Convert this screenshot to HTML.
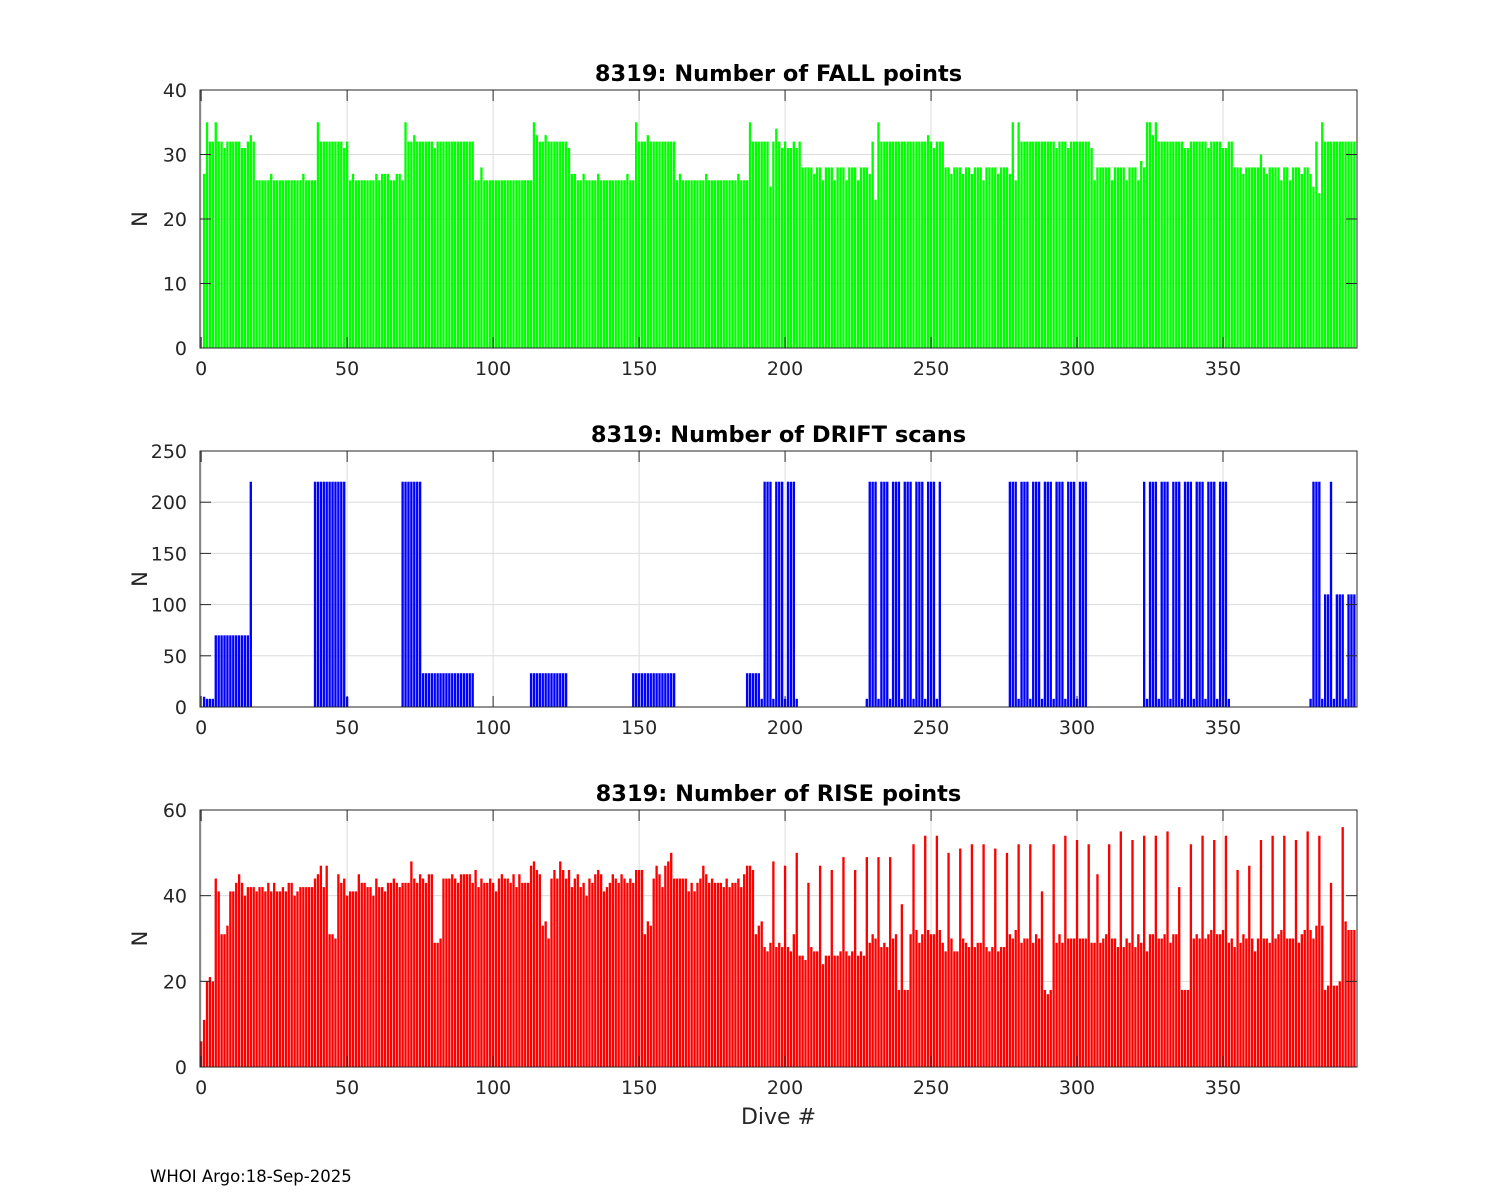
<!DOCTYPE html>
<html><head><meta charset="utf-8"><title>8319 dive stats</title>
<style>
html,body{margin:0;padding:0;background:#fff;}
svg{display:block;font-family:"DejaVu Sans","Liberation Sans",sans-serif;}
</style></head>
<body>
<svg id="fig" width="1500" height="1200" viewBox="0 0 1500 1200" xmlns="http://www.w3.org/2000/svg">
<rect x="0" y="0" width="1500" height="1200" fill="#fff"/>
<text x="150" y="1182" font-size="16.5" fill="#000">WHOI Argo:18-Sep-2025</text>
</svg>
<script>
const fallValues = [
27,35,32,32,35,32,32,31,32,32, 32,32,32,31,31,32,33,32,26,26,
26,26,26,27,26,26,26,26,26,26, 26,26,26,26,27,26,26,26,26,35,
32,32,32,32,32,32,32,32,31,32, 26,27,26,26,26,26,26,26,26,27,
26,27,27,27,26,26,27,27,26,35, 32,32,33,32,32,32,32,32,32,31,
32,32,32,32,32,32,32,32,32,32, 32,32,32,26,26,28,26,26,26,26,
26,26,26,26,26,26,26,26,26,26, 26,26,26,35,33,32,32,33,32,32,
32,32,32,32,32,31,27,27,26,26, 27,26,26,26,26,27,26,26,26,26,
26,26,26,26,26,27,26,26,35,32, 32,32,33,32,32,32,32,32,32,32,
32,32,26,27,26,26,26,26,26,26, 26,26,27,26,26,26,26,26,26,26,
26,26,26,27,26,26,26,35,32,32, 32,32,32,32,25,32,34,32,31,32,
31,31,32,31,32,28,28,28,28,27, 28,28,26,28,28,28,26,28,28,28,
26,28,28,28,26,28,28,28,27,32, 23,35,32,32,32,32,32,32,32,32,
32,32,32,32,32,32,32,32,33,32, 31,32,32,32,28,28,27,28,28,28,
27,28,28,27,28,28,28,26,28,28, 28,28,27,28,28,28,27,35,26,35,
32,32,32,32,32,32,32,32,32,32, 32,32,31,32,32,32,31,32,32,32,
32,32,32,32,31,26,28,28,28,28, 28,26,28,28,28,28,26,28,28,28,
26,29,28,35,35,33,35,32,32,32, 32,32,32,32,32,32,31,31,32,32,
32,32,32,32,31,32,32,32,32,31, 31,32,32,28,28,28,27,28,28,28,
28,28,30,28,27,28,28,28,28,26, 28,28,26,28,28,28,27,28,28,27,
25,32,24,35,32,32,32,32,32,32, 32,32,32,32,32];
const driftValues = [
10,8,8,8,70,70,70,70,70,70, 70,70,70,70,70,70,220,0,0,0,
0,0,0,0,0,0,0,0,0,0, 0,0,0,0,0,0,0,0,220,220,
220,220,220,220,220,220,220,220,220,10, 0,0,0,0,0,0,0,0,0,0,
0,0,0,0,0,0,0,0,220,220, 220,220,220,220,220,33,33,33,33,33,
33,33,33,33,33,33,33,33,33,33, 33,33,33,0,0,0,0,0,0,0,
0,0,0,0,0,0,0,0,0,0, 0,0,33,33,33,33,33,33,33,33,
33,33,33,33,33,0,0,0,0,0, 0,0,0,0,0,0,0,0,0,0,
0,0,0,0,0,0,0,33,33,33, 33,33,33,33,33,33,33,33,33,33,
33,33,0,0,0,0,0,0,0,0, 0,0,0,0,0,0,0,0,0,0,
0,0,0,0,0,0,33,33,33,33, 33,8,220,220,220,8,220,220,220,8,
220,220,220,8,0,0,0,0,0,0, 0,0,0,0,0,0,0,0,0,0,
0,0,0,0,0,0,0,8,220,220, 220,8,220,220,220,8,220,220,220,8,
220,220,220,8,220,220,220,8,220,220, 220,8,220,0,0,0,0,0,0,0,
0,0,0,0,0,0,0,0,0,0, 0,0,0,0,0,0,220,220,220,8,
220,220,220,8,220,220,220,8,220,220, 220,8,220,220,220,8,220,220,220,8,
220,220,220,0,0,0,0,0,0,0, 0,0,0,0,0,0,0,0,0,0,
0,0,220,8,220,220,220,8,220,220, 220,8,220,220,220,8,220,220,220,8,
220,220,220,8,220,220,220,8,220,220, 220,8,0,0,0,0,0,0,0,0,
0,0,0,0,0,0,0,0,0,0, 0,0,0,0,0,0,0,0,0,8,
220,220,220,8,110,110,220,8,110,110, 110,8,110,110,110];
const riseValues = [
6,11,20,21,20,44,41,31,31,33, 41,41,43,45,43,40,42,42,42,41,
42,42,41,43,41,43,41,41,42,41, 43,43,40,41,42,42,42,42,42,44,
45,47,42,47,31,31,30,45,43,44, 40,41,41,41,45,43,43,42,42,40,
44,42,42,41,43,43,44,43,42,43, 43,43,48,44,43,45,44,43,45,45,
29,29,30,44,44,44,45,44,43,45, 45,45,45,43,46,42,44,43,43,44,
43,41,44,45,44,44,43,45,42,45, 43,43,43,47,48,46,45,33,34,30,
44,46,44,48,46,44,46,42,44,45, 42,43,40,44,43,45,46,45,41,42,
43,45,44,43,45,44,43,44,43,46, 46,46,31,34,33,44,47,45,42,47,
48,50,44,44,44,44,44,41,43,41, 43,44,47,45,43,44,43,43,43,42,
44,42,43,43,44,42,45,47,47,46, 31,33,34,28,27,29,48,28,29,28,
47,28,27,31,50,26,26,25,43,28, 27,27,47,24,26,26,46,26,26,27,
49,27,26,27,46,26,27,26,49,29, 31,30,49,28,29,28,49,30,31,18,
38,18,18,31,52,32,29,31,54,32, 31,31,54,32,29,27,50,30,27,27,
51,30,29,28,52,28,29,29,52,28, 27,28,51,27,28,28,50,31,30,32,
52,29,30,30,52,29,31,30,41,18, 17,18,52,29,31,29,54,30,30,30,
53,30,30,30,52,29,29,45,29,30, 31,52,30,30,28,55,28,30,29,53,
28,31,29,54,27,31,31,54,30,30, 31,55,29,31,31,42,18,18,18,52,
30,31,30,54,30,31,32,53,31,31, 32,54,29,30,28,46,29,31,30,47,
30,27,30,53,30,30,29,54,30,31, 32,54,30,30,30,53,29,31,32,55,
32,30,33,54,33,18,19,43,19,19, 20,56,34,32,32,32];
const xTicks = [0,50,100,150,200,250,300,350];
const fallTicks = [0,10,20,30,40];
const driftTicks = [0,50,100,150,200,250];
const riseTicks = [0,20,40,60];

const NS = "http://www.w3.org/2000/svg";
const svg = document.getElementById('fig');
const X0 = 200, X1 = 1357, XMIN = -0.4, XMAX = 395.9;
function xs(d){ return X0 + (d - XMIN) / (XMAX - XMIN) * (X1 - X0); }
function mk(tag, attrs, parent){
  const e = document.createElementNS(NS, tag);
  for (const k in attrs) e.setAttribute(k, attrs[k]);
  (parent || svg).appendChild(e);
  return e;
}
function panel(name, top, bottom, ymax, yTicks, values, start, color, title, showXLabel){
  const g = mk('g', {});
  
  
  const ys = v => bottom - v / ymax * (bottom - top);
  xTicks.forEach(t => {
    const l = mk('line', {x1: xs(t), x2: xs(t), y1: top, y2: bottom, stroke: '#dcdcdc', 'stroke-width': 1}, g);
    
    
  });
  yTicks.forEach(t => {
    const l = mk('line', {x1: X0, x2: X1, y1: ys(t), y2: ys(t), stroke: '#dcdcdc', 'stroke-width': 1}, g);
    
    
  });
  const bw = (xs(1) - xs(0)) * 0.8;
  values.forEach((v, i) => {
    const d = start + i;
    if (v <= 0) return;
    const r = mk('rect', {x: xs(d) - bw/2, y: ys(v), width: bw, height: bottom - ys(v), fill: color}, g);
    
    
  });
  const box = mk('rect', {x: X0, y: top, width: X1 - X0, height: bottom - top, fill: 'none', stroke: '#262626', 'stroke-width': 1}, g);
  
  
  xTicks.forEach(t => {
    mk('line', {x1: xs(t), x2: xs(t), y1: bottom, y2: bottom - 11, stroke: '#262626'}, g);
    mk('line', {x1: xs(t), x2: xs(t), y1: top, y2: top + 11, stroke: '#262626'}, g);
    const tx = mk('text', {x: xs(t), y: bottom + 27, 'font-size': 19, 'text-anchor': 'middle', fill: '#262626'}, g);
    tx.textContent = t;
    
    
  });
  yTicks.forEach(t => {
    mk('line', {x1: X0, x2: X0 + 11, y1: ys(t), y2: ys(t), stroke: '#262626'}, g);
    mk('line', {x1: X1, x2: X1 - 11, y1: ys(t), y2: ys(t), stroke: '#262626'}, g);
    const tx = mk('text', {x: X0 - 13, y: ys(t) + 7, 'font-size': 19, 'text-anchor': 'end', fill: '#262626'}, g);
    tx.textContent = t;
    
    
  });
  const tt = mk('text', {x: (X0 + X1) / 2, y: top - 9, 'font-size': 22.5, 'font-weight': 'bold', 'text-anchor': 'middle', fill: '#000'}, g);
  tt.textContent = title;
  
  
  const cy = (top + bottom) / 2;
  const yl = mk('text', {x: 147, y: cy, 'font-size': 21, 'text-anchor': 'middle', fill: '#262626', transform: 'rotate(-90 147 ' + cy + ')'}, g);
  yl.textContent = 'N';
  
  
  if (showXLabel) {
    const xl = mk('text', {x: (X0 + X1) / 2, y: bottom + 57, 'font-size': 22, 'text-anchor': 'middle', fill: '#262626'}, g);
    xl.textContent = 'Dive #';
    
    
  }
}
panel('fall', 90, 348, 40, fallTicks, fallValues, 1, '#00ff00', '8319: Number of FALL points', false);
panel('drift', 451, 707, 250, driftTicks, driftValues, 1, '#0000ff', '8319: Number of DRIFT scans', false);
panel('rise', 810, 1067, 60, riseTicks, riseValues, 0, '#ff0000', '8319: Number of RISE points', true);
</script>
</body></html>
